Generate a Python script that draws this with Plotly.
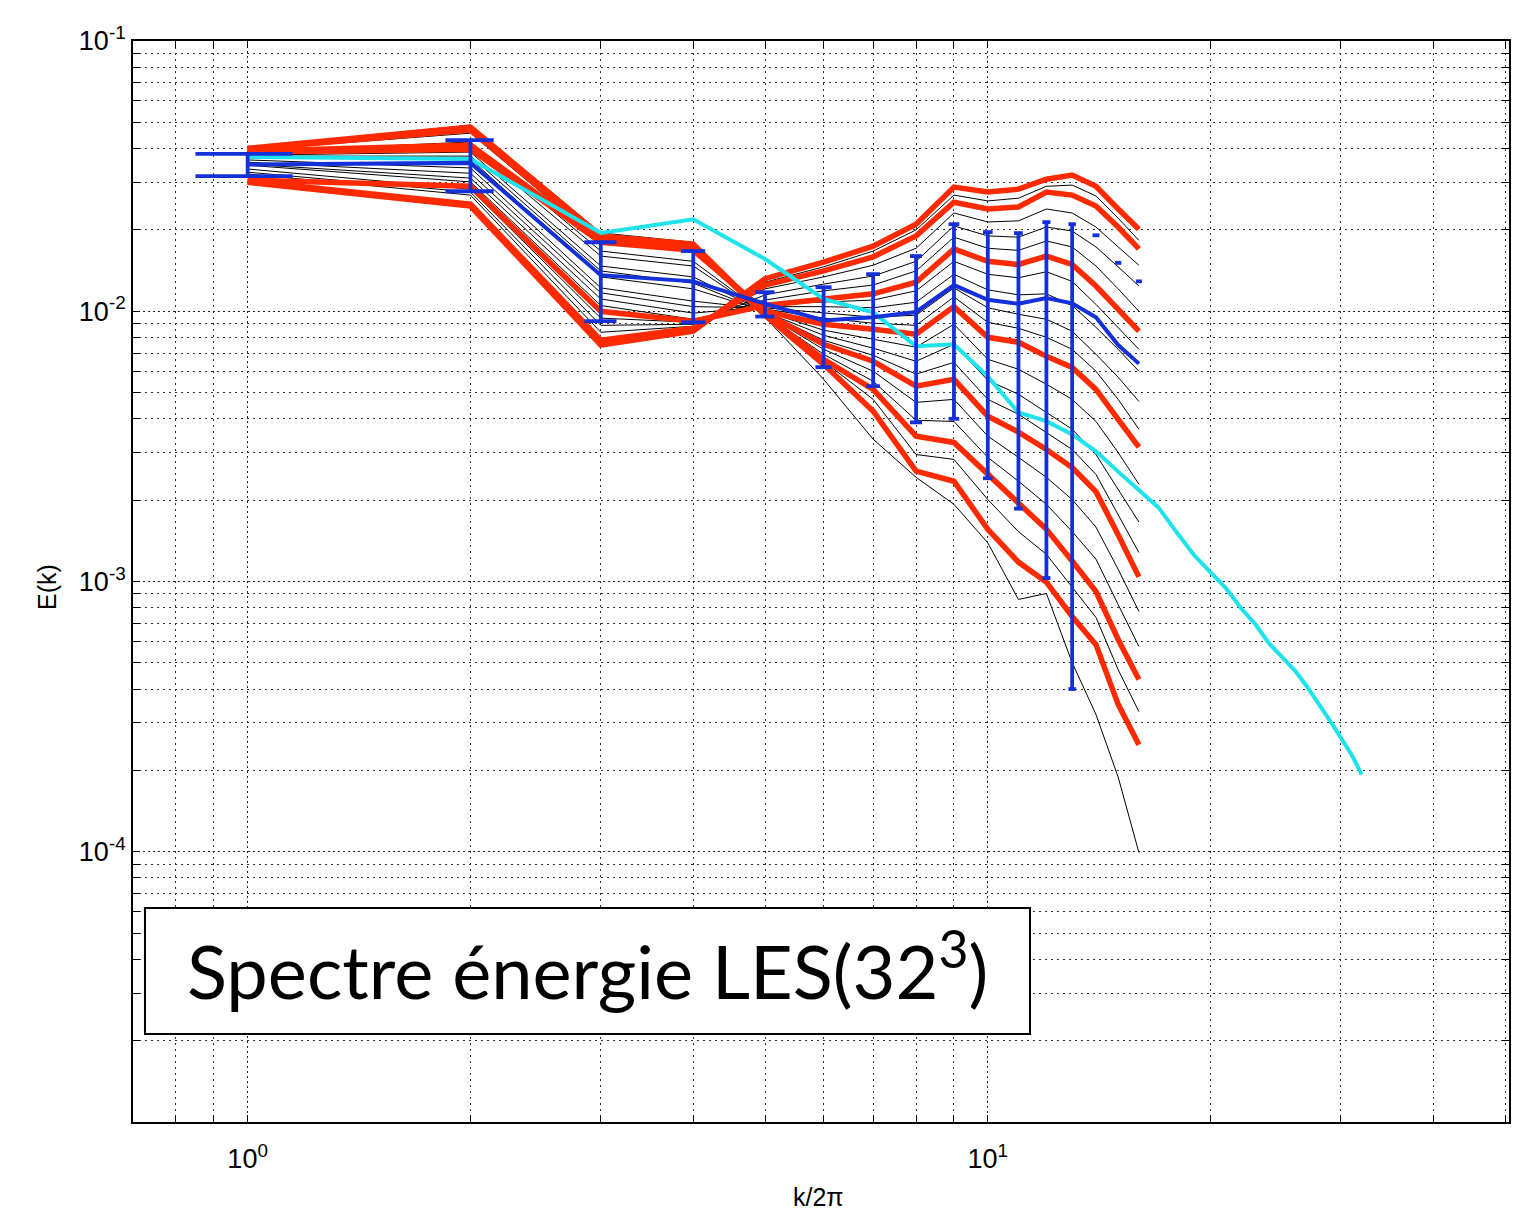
import math
import plotly.graph_objects as go

# wavenumbers k/2pi
k = list(range(1, 17))
k_ref = list(range(1, 33))

# LES energy spectra E(k), one list per snapshot
E_s00 = [0.0405, 0.0488, 0.0195, 0.0180, 0.00951, 0.00560, 0.00336, 0.00243, 0.00193, 0.00139, 0.000858, 0.000903, 0.000501, 0.000322, 0.000189, 0.0000994]
E_s01 = [0.0401, 0.0480, 0.0190, 0.0177, 0.00967, 0.00636, 0.00427, 0.00256, 0.00235, 0.00156, 0.00118, 0.000994, 0.000742, 0.000584, 0.000351, 0.000249]
E_s02 = [0.0395, 0.0456, 0.0180, 0.0167, 0.00959, 0.00653, 0.00472, 0.00295, 0.00283, 0.00201, 0.00153, 0.00126, 0.000953, 0.000736, 0.000472, 0.000330]
E_s03 = [0.0398, 0.0468, 0.0186, 0.0174, 0.00967, 0.00664, 0.00514, 0.00345, 0.00327, 0.00249, 0.00193, 0.00156, 0.00119, 0.000918, 0.000610, 0.000434]
E_s04 = [0.0388, 0.0423, 0.0167, 0.0153, 0.00975, 0.00693, 0.00551, 0.00395, 0.00391, 0.00288, 0.00235, 0.00193, 0.00153, 0.00121, 0.000822, 0.000575]
E_s05 = [0.0385, 0.0408, 0.0160, 0.0147, 0.00975, 0.00723, 0.00600, 0.00460, 0.00472, 0.00345, 0.00288, 0.00243, 0.00201, 0.00159, 0.00111, 0.000775]
E_s06 = [0.0391, 0.0412, 0.0183, 0.0171, 0.00984, 0.00755, 0.00653, 0.00528, 0.00560, 0.00409, 0.00357, 0.00308, 0.00264, 0.00215, 0.00149, 0.00104]
E_s07 = [0.0378, 0.0388, 0.0147, 0.0134, 0.00992, 0.00781, 0.00687, 0.00585, 0.00647, 0.00472, 0.00416, 0.00357, 0.00308, 0.00249, 0.00177, 0.00128]
E_s08 = [0.0375, 0.0375, 0.0141, 0.0127, 0.00992, 0.00815, 0.00730, 0.00653, 0.00755, 0.00555, 0.00493, 0.00423, 0.00366, 0.00295, 0.00219, 0.00166]
E_s09 = [0.0372, 0.0366, 0.0134, 0.0121, 0.0100, 0.00851, 0.00788, 0.00736, 0.00895, 0.00664, 0.00610, 0.00537, 0.00472, 0.00391, 0.00300, 0.00229]
E_s10 = [0.0388, 0.0398, 0.0180, 0.0168, 0.0100, 0.00895, 0.00858, 0.00822, 0.0104, 0.00801, 0.00768, 0.00681, 0.00620, 0.00514, 0.00398, 0.00314]
E_s11 = [0.0363, 0.0339, 0.0122, 0.0109, 0.0102, 0.00943, 0.00903, 0.00887, 0.0113, 0.00910, 0.00865, 0.00801, 0.00723, 0.00600, 0.00472, 0.00366]
E_s12 = [0.0356, 0.0324, 0.0117, 0.0104, 0.0103, 0.00984, 0.00951, 0.00967, 0.0122, 0.0103, 0.00975, 0.00934, 0.00844, 0.00693, 0.00570, 0.00464]
E_s13 = [0.0350, 0.0311, 0.0111, 0.00984, 0.0104, 0.0104, 0.0103, 0.0108, 0.0137, 0.0120, 0.0115, 0.0116, 0.0105, 0.00872, 0.00723, 0.00600]
E_s14 = [0.0347, 0.0301, 0.0105, 0.00934, 0.0106, 0.0108, 0.0110, 0.0119, 0.0153, 0.0137, 0.0133, 0.0140, 0.0129, 0.0106, 0.00872, 0.00723]
E_s15 = [0.0306, 0.0290, 0.0100, 0.00918, 0.0105, 0.0111, 0.0116, 0.0128, 0.0170, 0.0153, 0.0149, 0.0160, 0.0149, 0.0124, 0.0102, 0.00844]
E_s16 = [0.0336, 0.0283, 0.00943, 0.00910, 0.0110, 0.0119, 0.0125, 0.0141, 0.0188, 0.0171, 0.0168, 0.0182, 0.0173, 0.0147, 0.0121, 0.0100]
E_s17 = [0.0327, 0.0276, 0.00887, 0.00895, 0.0115, 0.0126, 0.0135, 0.0153, 0.0207, 0.0190, 0.0188, 0.0205, 0.0198, 0.0173, 0.0146, 0.0124]
E_s18 = [0.0322, 0.0269, 0.00836, 0.00880, 0.0121, 0.0134, 0.0148, 0.0171, 0.0231, 0.0214, 0.0216, 0.0239, 0.0231, 0.0205, 0.0173, 0.0148]
E_s19 = [0.0303, 0.0249, 0.00781, 0.00865, 0.0125, 0.0141, 0.0159, 0.0190, 0.0253, 0.0239, 0.0243, 0.0276, 0.0269, 0.0245, 0.0205, 0.0170]
E_s20 = [0.0308, 0.0251, 0.00768, 0.00858, 0.0128, 0.0146, 0.0167, 0.0200, 0.0269, 0.0256, 0.0262, 0.0290, 0.0293, 0.0267, 0.0221, 0.0183]
E_s21 = [0.0300, 0.0245, 0.00749, 0.00844, 0.0132, 0.0152, 0.0174, 0.0210, 0.0288, 0.0276, 0.0283, 0.0308, 0.0319, 0.0290, 0.0239, 0.0201]

thin_spectra = [E_s00, E_s02, E_s04, E_s05, E_s07, E_s08, E_s09,
                E_s11, E_s12, E_s13, E_s14, E_s16, E_s17, E_s18, E_s20]
bold_spectra = [E_s01, E_s03, E_s06, E_s10, E_s15, E_s19, E_s21]

# ensemble mean and standard deviation
E_mean = [0.0349, 0.0354, 0.0136, 0.0129, 0.01066, 0.00924, 0.0095, 0.00994, 0.0125, 0.01102, 0.01066, 0.0112, 0.0107, 0.0095, 0.0075, 0.0064]
E_std = [0.0033, 0.0076, 0.0044, 0.0038, 0.0011, 0.00303, 0.00422, 0.00606, 0.0085, 0.00861, 0.0088, 0.01017, 0.0103, 0.0096, 0.0076, 0.0065]

# reference spectrum up to k/2pi = 32
E_ref = [0.0372, 0.0366, 0.0195, 0.0219, 0.0156, 0.0111, 0.00991, 0.00742, 0.00755, 0.00574, 0.00422, 0.00392,
         0.00350, 0.00303, 0.00255, 0.00219, 0.00188, 0.00152, 0.00125, 0.00108, 0.000942, 0.000794, 0.000693,
         0.000589, 0.000527, 0.000468, 0.000408, 0.000353, 0.000305, 0.000264, 0.000229, 0.000193]

x_major = [1, 10]
x_major_text = ["10<sup>0</sup>", "10<sup>1</sup>"]
y_major = [1e-4, 1e-3, 1e-2, 1e-1]
y_major_text = ["10<sup>-4</sup>", "10<sup>-3</sup>", "10<sup>-2</sup>", "10<sup>-1</sup>"]

RED = "#ff2a00"
BLUE = "#1430d8"
CYAN = "#1fe3ea"

fig = go.Figure()

for s in thin_spectra:
    fig.add_trace(go.Scatter(x=k, y=s, mode="lines",
                             line=dict(color="black", width=1), hoverinfo="skip"))
for s in bold_spectra:
    fig.add_trace(go.Scatter(x=k, y=s, mode="lines",
                             line=dict(color=RED, width=5.5), hoverinfo="skip"))

fig.add_trace(go.Scatter(x=k_ref, y=E_ref, mode="lines",
                         line=dict(color=CYAN, width=4), hoverinfo="skip"))

fig.add_trace(go.Scatter(x=k, y=E_mean, mode="lines",
                         line=dict(color=BLUE, width=4), hoverinfo="skip"))

# error bars: vertical segment plus tees; parts with non-positive values are dropped on the log axis
tee = (max(k) - min(k)) / 100.0
ex, ey = [], []
for kk, m, s in zip(k, E_mean, E_std):
    lo, hi = m - s, m + s
    ex += [kk - tee, kk + tee, None]
    ey += [hi, hi, None]
    if lo > 0:
        ex += [kk, kk, None, kk - tee, kk + tee, None]
        ey += [lo, hi, None, lo, lo, None]
fig.add_trace(go.Scatter(x=ex, y=ey, mode="lines",
                         line=dict(color=BLUE, width=3.8), hoverinfo="skip"))

grid_major = dict(showgrid=True, gridcolor="#222222", gridwidth=1, griddash="2px,3px")
minor_style = dict(ticks="inside", ticklen=7, tickcolor="black", tickwidth=1.2,
                   showgrid=True, gridcolor="#333333", gridwidth=1, griddash="1.5px,4.5px")

x_minor = [0.7, 0.8, 0.9] + [v for v in range(2, 10)] + [20, 30, 40, 50]
y_minor = [m * 10.0 ** e for e in range(-5, -1) for m in range(2, 10)]

tick_font = dict(family="Liberation Sans Narrow, Liberation Sans, Arial, sans-serif", size=27, color="black")

fig.update_xaxes(type="log", range=[math.log10(0.7), math.log10(50.6)],
                 tickmode="array", tickvals=x_major, ticktext=x_major_text,
                 ticks="inside", ticklen=7, tickwidth=1.2, tickcolor="black",
                 showline=True, linecolor="black", linewidth=1.8, mirror="allticks",
                 zeroline=False, tickfont=tick_font, ticklabelstandoff=12,
                 minor=dict(tickmode="array", tickvals=x_minor, **minor_style),
                 **grid_major)
fig.update_yaxes(type="log", range=[-5, -1],
                 tickmode="array", tickvals=y_major, ticktext=y_major_text,
                 ticks="inside", ticklen=7, tickwidth=1.2, tickcolor="black",
                 showline=True, linecolor="black", linewidth=1.8, mirror="allticks",
                 zeroline=False, tickfont=tick_font,
                 minor=dict(tickmode="array", tickvals=y_minor, **minor_style),
                 **grid_major)

title_font = dict(family="Liberation Sans, Arial, sans-serif", size=25, color="black")
fig.add_annotation(text="E(k)", xref="paper", yref="paper", x=-0.0625, y=0.495,
                   textangle=-90, showarrow=False, font=title_font,
                   xanchor="center", yanchor="middle")
fig.add_annotation(text="k/2\u03c0", xref="paper", yref="paper", x=0.498, y=-0.069,
                   showarrow=False, font=title_font, xanchor="center", yanchor="middle")

# caption box
fig.add_shape(type="rect", xref="paper", yref="paper",
              x0=0.0087, x1=0.6519, y0=0.0814, y1=0.198,
              line=dict(color="black", width=2), fillcolor="white", layer="above")
fig.add_annotation(text="Spectre énergie LES(32<sup>3</sup>)", xref="paper", yref="paper",
                   x=0.330, y=0.144, showarrow=False, xanchor="center", yanchor="middle",
                   font=dict(family="Lato, Open Sans, sans-serif", size=74, color="black"))

fig.update_layout(width=1525, height=1213,
                  margin=dict(l=133, r=16, t=41, b=91, autoexpand=False),
                  plot_bgcolor="white", paper_bgcolor="white",
                  showlegend=False)

fig.write_html("out.html")
